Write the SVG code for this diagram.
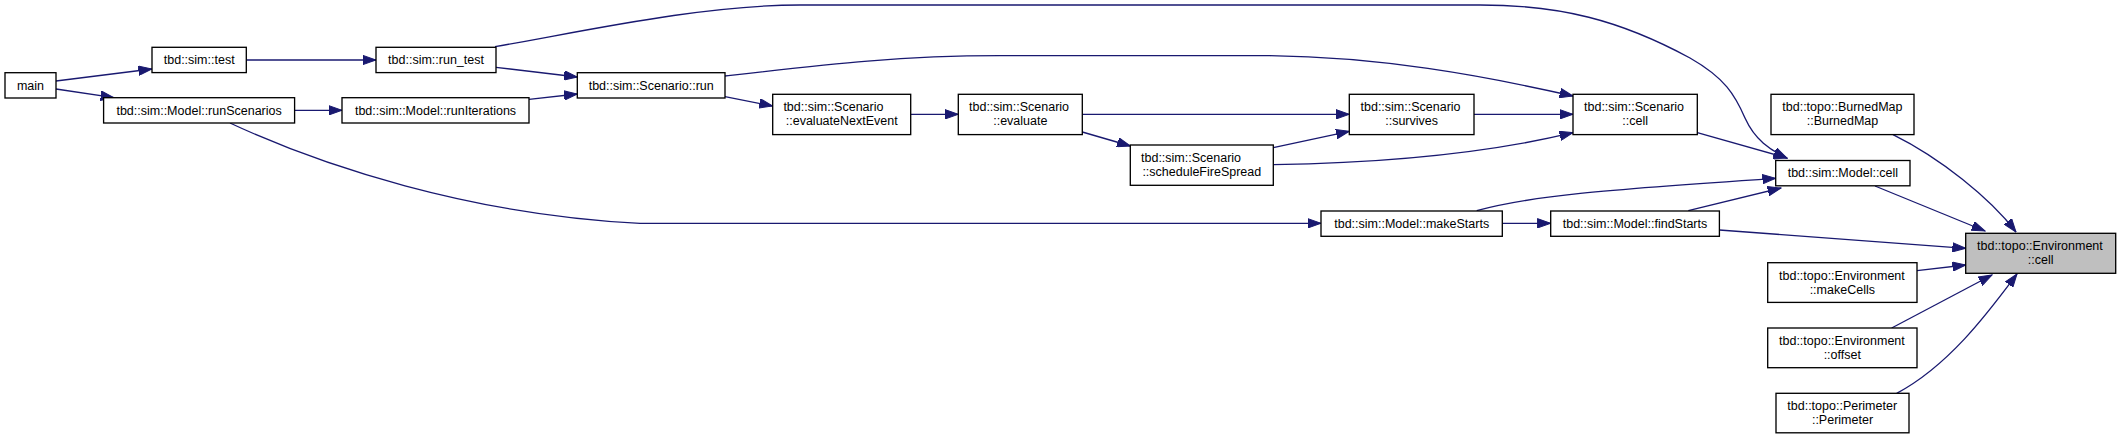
<svg xmlns="http://www.w3.org/2000/svg" width="2120" height="439" viewBox="0 0 2120 439">
<style>
.n rect{fill:#ffffff;stroke:#000000;stroke-width:1.33}
.n.root rect{fill:#bfbfbf}
.n text{font-family:"Liberation Sans",Arial,sans-serif;font-size:12.5px;fill:#000000}
.c{text-anchor:middle}
.s{text-anchor:start}
#edges path{fill:none;stroke:#191970;stroke-width:1.33;marker-end:url(#ah)}
</style>
<defs>
<marker id="ah" viewBox="0 0 14 10" refX="13.3" refY="5" markerWidth="14" markerHeight="10" markerUnits="userSpaceOnUse" orient="auto">
<path d="M0,0.3 L13.3,5 L0,9.7 Z" fill="#191970" stroke="#191970" stroke-width="1"/>
</marker>
</defs>
<rect x="0" y="0" width="2120" height="439" fill="#ffffff"/>
<g id="edges">
<path d="M56,81 L151.8,69"/>
<path d="M56,89 L114,97.7"/>
<path d="M246.3,60 L376,60"/>
<path d="M496,67.3 L577.3,77"/>
<path d="M529,99.3 L577.3,94"/>
<path d="M294.6,110.3 L342,110.3"/>
<path d="M495,46.7 C580,32 700,5 800,5 L1480,5 C1560,5 1620,20 1690,58 C1725,78 1735,95 1745,118 C1755,140 1770,150 1787,158"/>
<path d="M230,123 C320,165 470,215 640,223.3 L1321,223.3"/>
<path d="M725,76 C830,64 900,55.7 1000,55.7 L1270,55.7 C1380,57 1480,75 1573,96"/>
<path d="M725,96.7 L772.7,106"/>
<path d="M910.7,114.3 L958.3,114.3"/>
<path d="M1082.3,114.3 L1349.3,114.3"/>
<path d="M1082.3,132 L1130.5,146"/>
<path d="M1273.3,147.7 L1349.3,131.3"/>
<path d="M1273.3,164.7 C1380,163 1480,155 1573,132.7"/>
<path d="M1474,114.3 L1573,114.3"/>
<path d="M1697.3,132.7 L1787,158"/>
<path d="M1476.7,210.7 C1530,196 1600,190 1775.7,178.3"/>
<path d="M1688.3,210.7 L1781,188"/>
<path d="M1502.3,223.3 L1550.7,223.3"/>
<path d="M1719.3,230 L1965.7,248.3"/>
<path d="M1875,186 L1985,231"/>
<path d="M1893,134.7 C1940,158 1990,198 2016,232"/>
<path d="M1917,270.7 L1965.7,265"/>
<path d="M1891.7,328 L1992,275"/>
<path d="M1896.7,393.3 C1950,365 1990,310 2017,274"/>
</g>
<g id="node-main" class="n"><rect x="5" y="72.7" width="51" height="25.3"/><text class="c" x="30.5" y="89.5">main</text></g>
<g id="node-test" class="n"><rect x="152" y="47.3" width="94.3" height="25.3"/><text class="c" x="199.2" y="64.2">tbd::sim::test</text></g>
<g id="node-run_test" class="n"><rect x="376" y="47.3" width="120" height="25.3"/><text class="c" x="436" y="64.2">tbd::sim::run_test</text></g>
<g id="node-runScenarios" class="n"><rect x="103.6" y="97.7" width="191" height="25.3"/><text class="c" x="199.1" y="114.6">tbd::sim::Model::runScenarios</text></g>
<g id="node-runIterations" class="n"><rect x="342" y="97.7" width="187" height="25.3"/><text class="c" x="435.5" y="114.6">tbd::sim::Model::runIterations</text></g>
<g id="node-scenario-run" class="n"><rect x="577.3" y="72.7" width="147.7" height="25.3"/><text class="c" x="651.2" y="89.5">tbd::sim::Scenario::run</text></g>
<g id="node-evaluateNextEvent" class="n"><rect x="772.7" y="94.3" width="138" height="40.3"/><text class="s" x="783.4" y="111.2">tbd::sim::Scenario</text><text class="c" x="841.7" y="125.2">::evaluateNextEvent</text></g>
<g id="node-evaluate" class="n"><rect x="958.3" y="94.3" width="124" height="40.3"/><text class="s" x="969" y="111.2">tbd::sim::Scenario</text><text class="c" x="1020.3" y="125.2">::evaluate</text></g>
<g id="node-scheduleFireSpread" class="n"><rect x="1130.3" y="145" width="143" height="40.3"/><text class="s" x="1141" y="161.9">tbd::sim::Scenario</text><text class="c" x="1201.8" y="175.9">::scheduleFireSpread</text></g>
<g id="node-survives" class="n"><rect x="1349.3" y="94.3" width="124.7" height="40.3"/><text class="s" x="1360.5" y="111.2">tbd::sim::Scenario</text><text class="c" x="1411.6" y="125.2">::survives</text></g>
<g id="node-scenario-cell" class="n"><rect x="1573" y="94.3" width="124.3" height="40.3"/><text class="s" x="1584" y="111.2">tbd::sim::Scenario</text><text class="c" x="1635.2" y="125.2">::cell</text></g>
<g id="node-burnedmap" class="n"><rect x="1771" y="94.3" width="143" height="40.3"/><text class="s" x="1782.3" y="111.2">tbd::topo::BurnedMap</text><text class="c" x="1842.5" y="125.2">::BurnedMap</text></g>
<g id="node-model-cell" class="n"><rect x="1775.7" y="160.5" width="134.3" height="25.3"/><text class="c" x="1842.9" y="177.4">tbd::sim::Model::cell</text></g>
<g id="node-makeStarts" class="n"><rect x="1321" y="211" width="181.3" height="25.3"/><text class="c" x="1411.7" y="227.9">tbd::sim::Model::makeStarts</text></g>
<g id="node-findStarts" class="n"><rect x="1550.7" y="211" width="168.7" height="25.3"/><text class="c" x="1635" y="227.9">tbd::sim::Model::findStarts</text></g>
<g id="node-env-cell" class="n root"><rect x="1965.7" y="233.3" width="150" height="40"/><text class="s" x="1977" y="250.2">tbd::topo::Environment</text><text class="c" x="2040.7" y="264.2">::cell</text></g>
<g id="node-makeCells" class="n"><rect x="1767.7" y="262.7" width="149.3" height="39.7"/><text class="s" x="1779" y="279.5">tbd::topo::Environment</text><text class="c" x="1842.3" y="293.5">::makeCells</text></g>
<g id="node-offset" class="n"><rect x="1767.7" y="328" width="149.3" height="39.7"/><text class="s" x="1779" y="344.8">tbd::topo::Environment</text><text class="c" x="1842.3" y="358.8">::offset</text></g>
<g id="node-perimeter" class="n"><rect x="1776" y="393.3" width="133" height="39.5"/><text class="s" x="1787.3" y="410.1">tbd::topo::Perimeter</text><text class="c" x="1842.5" y="424.1">::Perimeter</text></g>
</svg>
